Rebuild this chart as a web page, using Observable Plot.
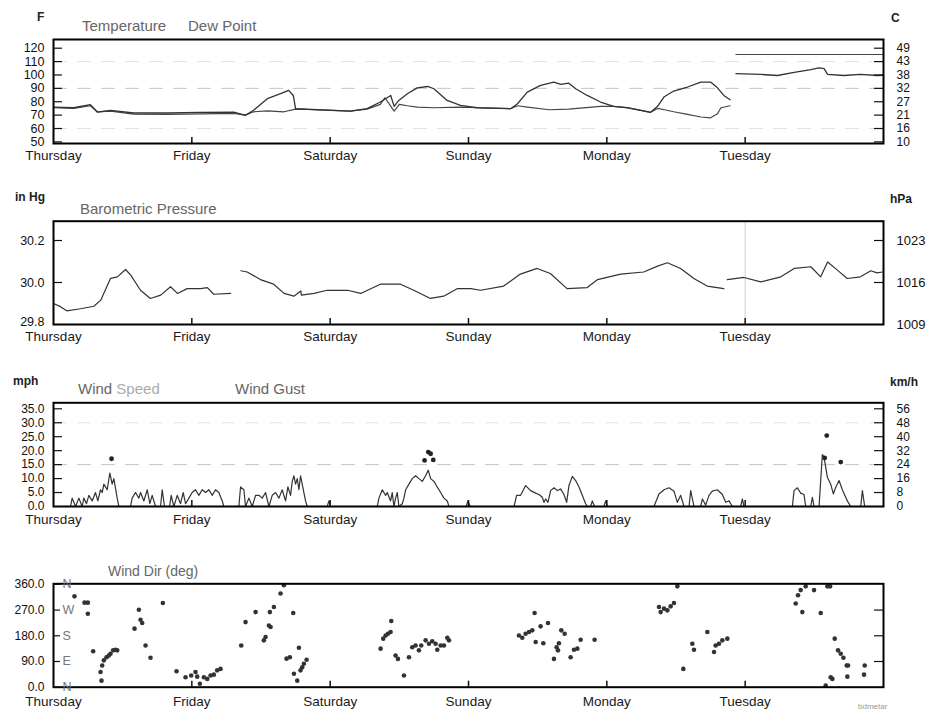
<!DOCTYPE html>
<html><head><meta charset="utf-8">
<script src="https://cdn.jsdelivr.net/npm/d3@7"></script>
<script src="https://cdn.jsdelivr.net/npm/@observablehq/plot@0.6"></script>
<style>
body{margin:0;background:#fff;}
#wrap{position:relative;width:926px;height:715px;background:#fff;font-family:"Liberation Sans",Arial,sans-serif;overflow:hidden}
#wrap svg{position:absolute;left:0}
.lbl{position:absolute;white-space:nowrap;line-height:1}
.unit{font-size:12px;color:#222;font-weight:bold}
.title{font-size:15px;color:#666}
</style></head><body><div id="wrap"></div>
<script>
// ---------- shared axis data ----------
const dayTicks = [0, 24, 48, 72, 96, 120];
const dayLabels = ["Thursday", "Friday", "Saturday", "Sunday", "Monday", "Tuesday"];

// ---------- temperature panel ----------
const tempTicksF = [50, 60, 70, 80, 90, 100, 110, 120];
const tempTicksC = ["10", "16", "21", "27", "32", "38", "43", "49"];
const temperature = [[0,76],[3.5,75.5],[6.4,77.8],[7.6,72.3],[9.9,73.6],[13.9,71.6],[19.7,71.6],[25.5,72],[31.3,72.3],[33.3,69.9],[34.7,73.6],[37.1,82.3],[39.4,86],[40.8,88.5],[41.6,84.7],[42,74.8],[45.8,74],[51.5,73],[54.4,74.8],[56.7,79.8],[58.5,84.7],[59.1,76.5],[59.9,81],[61.4,86],[63.1,90.4],[64.9,91.4],[66,89.7],[68.3,81],[70.6,77.3],[73.5,75.5],[79.3,74.8],[80.5,78.5],[82.2,87.2],[84.5,92.2],[86.8,94.7],[88,93],[89.4,93.9],[90.6,89.7],[92.6,84.7],[94.9,79.8],[97.2,76.6],[99.6,75.5],[101.9,73.6],[103.6,72.1],[104.8,76.6],[105.9,83.5],[107.6,88],[110,91],[112.3,94.7],[114,94.7],[115.2,90.4],[116.3,84.7],[117.4,81.5],[118,NaN],[118.4,101],[122.7,100.4],[125.6,99.6],[128.5,102],[131.4,104],[132.8,105.3],[133.7,104.7],[134.3,100.4],[137.1,99.6],[140,100.4],[142.9,99.6],[144,99.8]];
const dewPoint = [[0,75.5],[3.5,75],[6.4,77],[7.6,72.5],[9.9,73],[13.9,70.8],[19.7,70.5],[25.5,71],[31.3,71.3],[33.3,70],[34.7,72.5],[37.1,73.2],[40,72.5],[42,74.5],[45.8,74],[51.5,73],[54.4,74.5],[56.7,78],[57.5,83],[59.1,73],[60,78],[61.4,77],[63.1,76],[66,75.5],[70.6,76],[73.5,75.5],[79.3,74.8],[80.5,77],[82.2,76],[86,74],[89.4,74.5],[94.9,76.5],[97.2,76.5],[99.6,75.5],[101.9,73.6],[103.6,72.1],[104.8,75],[106,74],[107.6,72.5],[110,70.6],[112.3,68.6],[114,68],[115.2,71],[115.8,75.5],[117.4,77],[118,NaN],[118.4,115.3],[144,115.3]];

// ---------- pressure panel ----------
const presTicksIn = [29.8, 30.0, 30.2];
const presTicksHpa = ["1009", "1016", "1023"];
const pressure = [[0,29.90],[1.2,29.885],[2.3,29.865],[4.7,29.875],[7,29.887],[8.2,29.916],[9.9,30.02],[11.1,30.027],[12.5,30.062],[13.4,30.035],[15.1,29.963],[16.8,29.924],[18.6,29.94],[20.3,29.98],[21.5,29.948],[23.2,29.971],[25.5,29.971],[26.7,29.976],[27.8,29.944],[30.7,29.948],[31.5,NaN],[32.5,30.056],[33.6,30.05],[35.9,30.014],[38.2,29.992],[40,29.948],[41.7,29.935],[42.9,29.96],[43,29.94],[45.2,29.948],[47.5,29.963],[51,29.963],[53.3,29.948],[56.7,29.992],[60.2,29.992],[62.5,29.963],[65.4,29.924],[67.7,29.935],[70.1,29.971],[72.4,29.971],[74.1,29.963],[78.1,29.983],[81,30.04],[83.9,30.067],[86.2,30.043],[89.1,29.971],[92.6,29.976],[94.4,30.014],[98.4,30.04],[102.4,30.05],[104.8,30.078],[106.5,30.094],[108.8,30.067],[111.1,30.019],[113.4,29.983],[116.3,29.971],[116.6,NaN],[116.9,30.014],[119.8,30.024],[122.7,30.003],[126.2,30.027],[128.5,30.067],[131.4,30.075],[133.1,30.027],[134.3,30.098],[136,30.059],[137.7,30.019],[140,30.027],[141.8,30.056],[142.9,30.046],[143.8,30.05]];

// ---------- wind panel ----------
const windTicksMph = [0, 5, 10, 15, 20, 25, 30, 35];
const windTicksKmh = ["0", "8", "16", "24", "32", "40", "48", "56"];
const windSpeed = [[0,0],[2.95,0],[3.24,3],[3.82,0],[4.4,3],[4.97,0],[5.26,3],[5.73,1],[6.13,4],[6.71,2],[7.29,5],[7.69,2],[8.16,6],[8.45,5],[8.74,8],[9.31,6],[9.78,12],[10.18,8],[10.47,10],[11.05,3],[11.34,0],[13.36,0],[13.65,3],[14.23,5],[14.81,3],[15.1,5],[15.68,2],[16.26,6],[16.72,1],[17.12,4],[17.7,0],[18.57,0],[18.86,6],[19.26,0],[20.13,0],[20.42,4],[20.88,0],[21.46,4],[22.04,1],[22.5,5],[22.91,1],[23.49,3],[24.06,5],[24.64,6],[25.22,4],[25.8,6],[26.38,5],[26.96,6],[27.54,4],[28.11,6],[28.69,5],[29.27,2],[29.56,0],[32.16,0],[32.45,7],[33.03,6],[33.32,0],[33.9,3],[34.48,0],[35.06,4],[35.63,4],[36.21,3],[36.79,5],[37.37,0],[37.95,4],[38.53,5],[39.11,3],[39.68,6],[40.26,2],[40.67,7],[41.13,4],[41.42,9],[41.71,11],[42.0,8],[42.29,10],[42.58,6],[42.86,11],[43.15,8],[43.44,5],[43.73,2],[44.02,0],[47.49,0],[47.78,2],[48.07,0],[56.17,0],[56.46,3],[57.04,6],[57.62,4],[57.91,5],[58.48,2],[58.77,5],[59.06,0],[59.35,3],[59.64,5],[59.93,0],[60.51,1],[60.8,3],[61.09,6],[61.67,8],[62.24,10],[62.82,11],[63.4,10],[63.98,9],[64.56,11],[65.02,13],[65.43,10],[66.0,9],[66.58,7],[67.16,5],[67.74,3],[68.32,2],[68.61,0],[71.6,0],[71.9,2],[72.3,0],[79.9,0],[80.35,4],[81.04,4],[81.91,7.5],[82.78,5.7],[83.65,4.8],[84.22,4.3],[84.8,3.3],[85.09,1.5],[85.38,2.7],[85.79,1.5],[86.25,5.7],[86.83,6.7],[87.41,5.7],[87.98,6.3],[88.56,4.3],[89.03,1.5],[89.43,7.5],[90.01,10.8],[90.59,9.3],[91.17,7],[91.74,4],[92.32,1],[92.61,0],[93.19,0],[93.48,2],[93.88,0],[95.5,0],[95.79,2],[96.08,0],[104.18,0],[104.47,1.5],[105.05,4.5],[105.92,6],[106.79,6.7],[107.65,5.5],[108.23,1.5],[108.81,4],[109.39,0],[110.26,0],[110.55,5.7],[111.12,0],[112.28,0],[112.57,2.7],[113.15,0.5],[113.73,4],[114.3,5.5],[115.17,6],[116.04,4.3],[116.62,1.5],[117.2,2],[117.78,0],[119.22,0],[119.51,2.7],[119.8,0],[128.19,0],[128.48,5.7],[129.06,6.7],[129.63,4.8],[130.21,4.3],[130.5,0],[131.37,0],[131.66,3.3],[131.95,0],[132.82,0],[133.39,18.6],[133.68,17.7],[134.26,10.5],[134.84,8],[135.3,4.5],[135.71,6.9],[136.29,9.3],[136.86,6],[137.73,2],[138.31,0],[140.05,0],[140.34,5.7],[140.74,0],[143.5,0]];
const windGust = [[10.07,17.1],[64.38,16.5],[65.02,19.5],[65.43,18.9],[65.89,16.7],[133.8,17.4],[134.15,25.4],[136.58,15.9]];

// ---------- wind direction panel ----------
const dirTicks = [0, 90, 180, 270, 360];
const dirCompass = ["N", "E", "S", "W", "N"];
const windDir = [[3.64,318],[5.38,296],[5.96,296],[5.96,257],[6.88,126],[8.16,53],[8.33,23],[8.45,76],[8.74,94],[9.2,105],[9.6,111],[9.89,117],[10.35,129],[10.76,131],[11.05,129],[14.06,205],[14.81,271],[15.1,236],[15.39,225],[15.97,146],[16.83,103],[18.97,295],[21.35,56],[22.91,35],[23.89,41],[24.64,53],[24.93,37],[25.39,12],[26.09,35],[26.67,29],[27.25,41],[27.82,44],[28.4,59],[28.98,64],[32.57,146],[33.32,228],[35.06,263],[36.5,164],[36.79,176],[37.37,216],[37.66,211],[37.54,263],[38.24,281],[39.39,328],[39.97,357],[40.43,100],[41.01,105],[41.59,260],[41.71,47],[42.29,23],[42.58,138],[42.86,59],[43.15,70],[43.44,82],[43.91,96],[56.75,135],[57.21,170],[57.62,181],[58.02,187],[58.48,193],[58.6,232],[59.35,111],[59.76,99],[60.8,41],[61.67,105],[62.24,140],[62.82,146],[63.4,129],[63.8,146],[64.56,164],[65.14,152],[65.71,161],[66.29,152],[66.58,131],[67.16,146],[67.74,146],[68.32,173],[68.61,164],[80.75,181],[81.33,173],[81.91,187],[82.49,193],[83.07,199],[83.47,260],[83.65,158],[84.51,213],[84.98,154],[85.79,225],[86.83,99],[87.29,140],[87.52,129],[87.69,154],[88.1,199],[88.68,187],[89.72,105],[90.3,131],[90.88,135],[91.46,166],[93.88,166],[105.05,281],[105.34,263],[105.92,275],[106.5,269],[107.07,283],[107.65,295],[108.23,353],[109.27,64],[110.83,152],[111.12,131],[113.44,193],[114.6,123],[114.88,146],[115.46,152],[116.04,164],[116.91,170],[128.77,293],[129.17,322],[129.63,340],[129.92,263],[130.5,353],[131.95,340],[133.11,260],[134.26,353],[134.73,353],[133.97,6],[134.84,35],[135.13,29],[135.54,170],[136.11,129],[136.58,117],[137.04,103],[137.62,76],[137.85,76],[137.73,37],[140.62,44],[140.74,76]];

// ---------- drawing ----------
const W = 926, ML = 53, MR = 43, IW = W - ML - MR;
const FONT = '"Liberation Sans", Arial, sans-serif';
const wrap = document.getElementById("wrap");

function panel(cfg) {
  const ih = cfg.height - cfg.mt - cfg.mb;
  const leftText = (data, dy) => Plot.text(data, {y: d => d, text: cfg.leftFormat, frameAnchor: "left", textAnchor: "end", dx: -9, dy, fontSize: cfg.leftSize || 12.5, fill: "#111", fontFamily: FONT});
  const marks = [
    ...(cfg.grid || []),
    ...cfg.data,
    Plot.frame({stroke: "#000", strokeWidth: 2}),
    Plot.ruleX(dayTicks.slice(1), {x: d => d, insetTop: ih - 6, stroke: "#111", strokeWidth: 1.5}),
    Plot.text(dayTicks, {x: d => d, text: (d, i) => dayLabels[i], frameAnchor: "bottom", dy: cfg.dayDy, fontSize: 13.5, fill: "#1a1a1a", fontFamily: FONT}),
    Plot.ruleY(cfg.leftTicks, {y: d => d, insetRight: IW - (cfg.leftTickLen || 9), stroke: "#111", strokeWidth: 1.2}),
    leftText(cfg.leftLabels.slice(0, 1), cfg.firstDy || 0),
    leftText(cfg.leftLabels.slice(1), 0),
    Plot.ruleY(cfg.rightTicks, {y: d => d, insetLeft: IW - 9, stroke: "#111", strokeWidth: 1.2}),
    ...(cfg.rightText ? [Plot.text(cfg.leftLabels, {y: d => d, text: (d, i) => cfg.rightText[i], frameAnchor: "right", textAnchor: "start", dx: 13, fontSize: cfg.rightSize || 12, fill: "#111", fontFamily: FONT})] : []),
    ...(cfg.extra || [])
  ];
  const svg = Plot.plot({
    width: W, height: cfg.height,
    marginLeft: ML, marginRight: MR, marginTop: cfg.mt, marginBottom: cfg.mb,
    x: {domain: [0, 144], axis: null},
    y: {domain: cfg.yDomain, axis: null},
    style: {fontFamily: FONT, fontSize: "12px", background: "transparent", overflow: "visible"},
    marks
  });
  svg.style.top = cfg.top + "px";
  wrap.appendChild(svg);
}

// Temperature
panel({
  top: 0, height: 165, mt: 39, mb: 22, yDomain: [48.8, 126.5], dayDy: 16,
  grid: [
    Plot.ruleY([60, 110], {y: d => d, stroke: "#e2e2e2", strokeDasharray: "14,10"}),
    Plot.ruleY([90], {y: d => d, stroke: "#c4c4c4", strokeDasharray: "14,10"})
  ],
  data: [
    Plot.line(dewPoint, {x: d => d[0], y: d => d[1], stroke: "#444", strokeWidth: 1.2}),
    Plot.line(temperature, {x: d => d[0], y: d => d[1], stroke: "#333", strokeWidth: 1.3})
  ],
  leftTicks: tempTicksF, leftLabels: tempTicksF, leftFormat: d => String(d),
  rightTicks: tempTicksF, rightText: tempTicksC, leftSize: 12.5, rightSize: 12
});

// Pressure
panel({
  top: 180, height: 165, mt: 40.7, mb: 21, yDomain: [29.8, 30.292], dayDy: 16, firstDy: -3,
  grid: [Plot.ruleX([120], {x: d => d, stroke: "#d0d0d0", strokeWidth: 1})],
  data: [Plot.line(pressure, {x: d => d[0], y: d => d[1], stroke: "#333", strokeWidth: 1.2})],
  leftTicks: [30.0, 30.2], leftLabels: presTicksIn, leftFormat: d => d.toFixed(1),
  rightTicks: [30.0, 30.2], rightText: presTicksHpa, leftSize: 12.5, rightSize: 13
});

// Wind speed / gust
panel({
  top: 370, height: 160, mt: 32.3, mb: 24, yDomain: [0, 37.15], dayDy: 17.5,
  grid: [
    Plot.ruleY([30], {y: d => d, stroke: "#e4e4e4", strokeDasharray: "14,10"}),
    Plot.ruleY([15], {y: d => d, stroke: "#c4c4c4", strokeDasharray: "14,10"})
  ],
  data: [
    Plot.line(windSpeed, {x: d => d[0], y: d => d[1], stroke: "#333", strokeWidth: 1.2}),
    Plot.dot(windGust, {x: d => d[0], y: d => d[1], r: 2.4, fill: "#222", stroke: "none"})
  ],
  leftTicks: windTicksMph, leftLabels: windTicksMph, leftFormat: d => d.toFixed(1),
  rightTicks: windTicksMph, rightText: windTicksKmh, leftSize: 12, rightSize: 12
});

// Wind direction
panel({
  top: 550, height: 165, mt: 33.3, mb: 28.3, yDomain: [0, 362], dayDy: 18.5,
  data: [Plot.dot(windDir, {x: d => d[0], y: d => d[1], r: 2.3, fill: "#333", stroke: "none"})],
  leftTicks: dirTicks, leftLabels: dirTicks, leftFormat: d => d.toFixed(1), leftTickLen: 7,
  rightTicks: [90, 180, 270], rightText: null, leftSize: 12,
  extra: [Plot.text(dirTicks, {y: d => d, text: (d, i) => dirCompass[i], frameAnchor: "left", textAnchor: "start", dx: 9, fontSize: 12.5, fill: "#777", fontFamily: FONT})]
});

// ---------- titles / units ----------
function label(text, left, top, cls, extraStyle) {
  const d = document.createElement("div");
  d.className = "lbl " + cls;
  d.style.left = left + "px";
  d.style.top = top + "px";
  if (extraStyle) Object.assign(d.style, extraStyle);
  d.innerHTML = text;
  wrap.appendChild(d);
}
label("F", 37, 11, "unit");
label("Temperature", 82, 18, "title");
label("Dew Point", 188, 18, "title");
label("C", 891, 12, "unit");
label("in Hg", 15, 191, "unit");
label("Barometric Pressure", 80, 201, "title");
label("hPa", 890, 193, "unit");
label("mph", 13, 375, "unit");
label('Wind <span style="color:#aaa">Speed</span>', 78, 381, "title");
label("Wind Gust", 235, 381, "title");
label("km/h", 890, 376, "unit");
label("Wind Dir (deg)", 108, 564, "title", {fontSize: "14px"});
label("bdmetar", 858, 703, "title", {fontSize: "8px", color: "#999"});
</script>
</body></html>
